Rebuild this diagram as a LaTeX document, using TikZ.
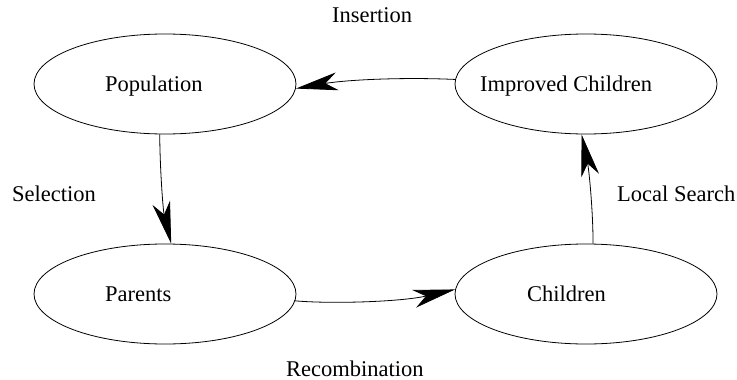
\documentclass[tikz,border=0pt]{standalone}
\usepackage{fontspec}
\setmainfont{Liberation Serif}
\usetikzlibrary{shapes.geometric,arrows.meta}
\begin{document}
\begin{tikzpicture}[x=1pt,y=-1pt,
  stateell/.style={draw=black,line width=0.8pt,ellipse,minimum width=262pt,minimum height=100pt,inner sep=0pt},
  lbl/.style={anchor=base west,inner sep=0pt,font=\fontsize{22.5pt}{26pt}\selectfont},
  flow/.style={line width=0.8pt,-{Stealth[length=42pt,width=18pt,inset=12pt]}}]
\useasboundingbox (0,0) rectangle (737,380);
\node[stateell] (pop) at (165,84) {};
\node[stateell] (imp) at (586,84) {};
\node[stateell] (par) at (165,294) {};
\node[stateell] (chi) at (586,294) {};
\node[lbl] (tpop) at (105,91) {Population};
\node[lbl] (timp) at (480,91) {Improved Children};
\node[lbl] (tpar) at (105,301) {Parents};
\node[lbl] (tchi) at (527,301) {Children};
\node[lbl] (lins) at (332,23) {Insertion};
\node[lbl] (lsel) at (12,201) {Selection};
\node[lbl] (lloc) at (617,201) {Local Search};
\node[lbl] (lrec) at (286,376) {Recombination};
\draw[flow] (imp.178) .. controls (400,77) and (345,80) .. (pop.-2);
\draw[flow] (pop.264) .. controls (160,170) and (163,210) .. (par.83);
\draw[flow] (par.-3) .. controls (330,304) and (400,302) .. (chi.178);
\draw[flow] (chi.82) .. controls (593,210) and (589,170) .. (imp.265);
\end{tikzpicture}
\end{document}
